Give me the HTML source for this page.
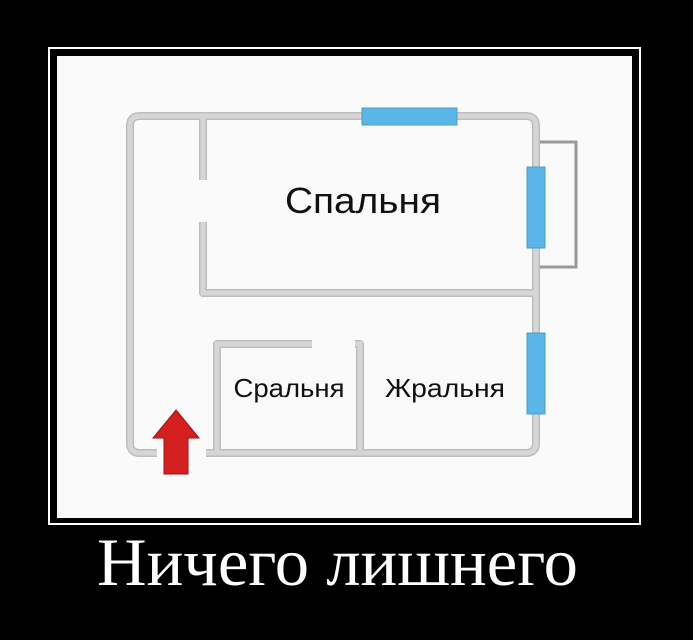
<!DOCTYPE html>
<html><head><meta charset="utf-8"><style>
html,body{margin:0;padding:0;background:#000;width:693px;height:640px;overflow:hidden}
</style></head><body>
<svg width="693" height="640" xmlns="http://www.w3.org/2000/svg">
<rect width="693" height="640" fill="#000"/>
<rect x="49" y="48" width="591" height="476" fill="none" stroke="#fff" stroke-width="2"/>
<rect x="57" y="56" width="575" height="462" fill="#fafafa"/>
<g fill="none" stroke="#bdbdbd" stroke-width="8" stroke-linejoin="round" stroke-linecap="butt">
<path d="M157 453 H140 Q130 453 130 443 V126 Q130 116 140 116 H526 Q536 116 536 126 V443 Q536 453 526 453 H206"/>
<path d="M203 116 V180 M203 222 V293 H536"/>
<path d="M217 453 V344 H312 M355 344 H360 V453"/>
</g>
<g fill="none" stroke="#d6d6d6" stroke-width="5">
<path d="M157 453 H140 Q130 453 130 443 V126 Q130 116 140 116 H526 Q536 116 536 126 V443 Q536 453 526 453 H206"/>
<path d="M203 116 V180 M203 222 V293 H536"/>
<path d="M217 453 V344 H312 M355 344 H360 V453"/>
</g>
<path d="M540 142 H576 V267 H540" fill="none" stroke="#9a9a9a" stroke-width="3"/>
<g fill="#5ab6e6" stroke="#4a9cc8" stroke-width="1">
<rect x="362" y="108" width="95" height="17"/>
<rect x="527" y="167" width="18" height="81"/>
<rect x="527" y="333" width="18" height="81"/>
</g>
<polygon points="176,410 199,438 188,438 188,474 164,474 164,438 153,438" fill="#d42020" stroke="#a01010" stroke-width="1"/>
<g font-family="Liberation Sans, sans-serif" fill="#111">
<text x="363" y="213" font-size="36" text-anchor="middle" textLength="156" lengthAdjust="spacingAndGlyphs">Спальня</text>
<text x="289" y="397" font-size="26" text-anchor="middle" textLength="111" lengthAdjust="spacingAndGlyphs">Сральня</text>
<text x="445" y="397" font-size="26" text-anchor="middle" textLength="120" lengthAdjust="spacingAndGlyphs">Жральня</text>
</g>
<text x="97" y="585" font-family="Liberation Serif, serif" font-size="68" fill="#fff" textLength="481" lengthAdjust="spacingAndGlyphs">Ничего лишнего</text>
</svg>
</body></html>
